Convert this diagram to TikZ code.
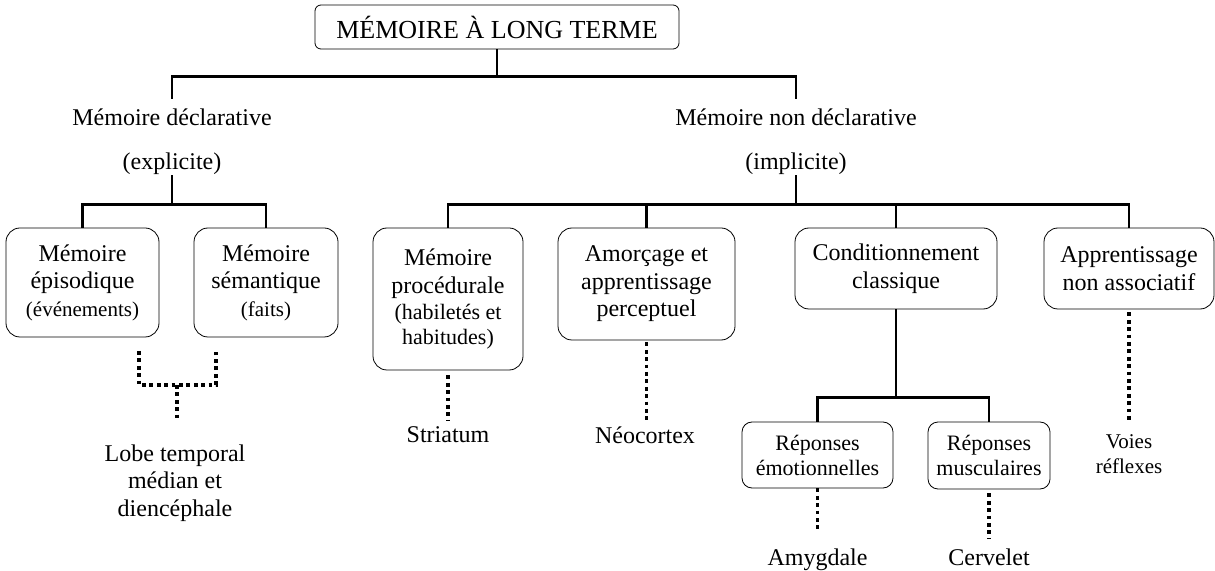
\documentclass[tikz,border=0pt]{standalone}
\usepackage{fontspec}
\setmainfont{Liberation Serif}
\usetikzlibrary{positioning}
\newcommand{\petit}[1]{{\fontsize{10.5}{12}\selectfont #1}}
\newcommand{\moyen}[1]{{\fontsize{11}{12.5}\selectfont #1}}

\begin{document}
\begin{tikzpicture}[
  x=0.5pt, y=-0.5pt,
  font=\fontsize{12}{13.8}\selectfont,
  box/.style    ={draw, rounded corners=7pt, align=center, inner sep=2pt},
  subbox/.style ={draw, rounded corners=5pt, align=center, inner sep=2pt, font=\fontsize{11}{12.5}\selectfont},
  head/.style   ={align=center, inner sep=0pt},
  leaf/.style   ={align=center, inner sep=3pt},
  tree/.style   ={line width=1.4pt},
  dotline/.style={line width=1.9pt, dash pattern=on 1.9pt off 1.8pt}
]
\useasboundingbox (0,0) rectangle (1215,571);

% ---- root ----
\node[box, rounded corners=3pt, minimum width=182pt, minimum height=22pt,
      font=\fontsize{13}{15}\selectfont] (ltm) at (497,27) {MÉMOIRE À LONG TERME};

\node[head] (decl)  at (172,142) {Mémoire déclarative\\[8pt](explicite)};
\node[head] (ndecl) at (796,142) {Mémoire non déclarative\\[8pt](implicite)};

\draw[tree] (ltm.south) -- ++(0,27) coordinate (tj);
\draw[tree] (tj) -| ([yshift=5pt]decl.north);
\draw[tree] (tj) -| ([yshift=5pt]ndecl.north);

% ---- declarative branch ----
\node[box, minimum width=76.5pt, minimum height=54.5pt] (epi) at (82.5,282.5)
  {Mémoire\\épisodique\\\petit{(événements)}};
\node[box, minimum width=72pt, minimum height=54.5pt] (sem) at (266,282.5)
  {Mémoire\\sémantique\\\petit{(faits)}};
\draw[tree] (decl.south) -- ++(0,29.5) coordinate (dj);
\draw[tree] (dj) -| (epi.north);
\draw[tree] (dj) -| (sem.north);

\node[leaf] (lobe) at (175,483) {Lobe temporal\\médian et\\diencéphale};
\coordinate (epidot)  at (139,351);
\coordinate (semdot)  at (216,351);
\coordinate (lobedot) at (177,385);
\draw[dotline] (epidot) |- (lobedot) -| (semdot);
\draw[dotline, shorten >=8.8pt] (lobedot) -- (lobedot |- lobe.north);

% ---- non declarative branch ----
\node[box, minimum width=75pt, minimum height=71pt] (proc) at (448,299)
  {Mémoire\\procédurale\\[-1pt]\moyen{(habiletés et}\\[-1.3pt]\moyen{habitudes)}};
\node[box, minimum width=88.5pt, minimum height=56pt] (amorce) at (646.5,284)
  {Amorçage et\\apprentissage\\perceptuel};
\node[box, minimum width=101pt, minimum height=40.5pt] (cond) at (896,268.5)
  {Conditionnement\\classique};
\node[box, minimum width=85pt, minimum height=40.5pt] (nonassoc) at (1129,268.5)
  {Apprentissage\\non associatif};
\draw[tree] (ndecl.south) -- ++(0,29.5) coordinate (nj);
\draw[tree] (nj) -| (proc.north);
\draw[tree] (nj) -| (amorce.north);
\draw[tree] (nj) -| (cond.north);
\draw[tree] (nj) -| (nonassoc.north);

% conditioning split
\node[subbox, minimum width=75.5pt, minimum height=33pt] (emo) at (817.5,455) {Réponses\\émotionnelles};
\node[subbox, minimum width=61pt, minimum height=33.5pt] (musc) at (989,455.5) {Réponses\\musculaires};
\draw[tree] (cond.south) -- ++(0,88) coordinate (cj);
\draw[tree] (cj) -| (emo.north);
\draw[tree] (cj) -| (musc.north);

% ---- brain structures ----
\node[leaf] (striatum)  at (448,435)   {Striatum};
\node[leaf] (neocortex) at (645,435)   {Néocortex};
\node[leaf] (amygdale)  at (817.5,559.5) {Amygdale};
\node[leaf] (cervelet)  at (989,557)   {Cervelet};
\node[leaf, font=\fontsize{10.5}{12.5}\selectfont] (voies) at (1129,454.3) {Voies\\réflexes};

\draw[dotline, shorten <=2.5pt] (proc) -- (striatum);
\draw[dotline, shorten <=1pt] (amorce.south) -- (amorce.south |- neocortex.north);
\draw[dotline, shorten >=5pt] (emo) -- (amygdale);
\draw[dotline, shorten <=2pt, shorten >=2pt] (musc) -- (cervelet);
\draw[dotline, shorten <=1.5pt, shorten >=4.3pt] (nonassoc) -- (voies);

\end{tikzpicture}
\end{document}
